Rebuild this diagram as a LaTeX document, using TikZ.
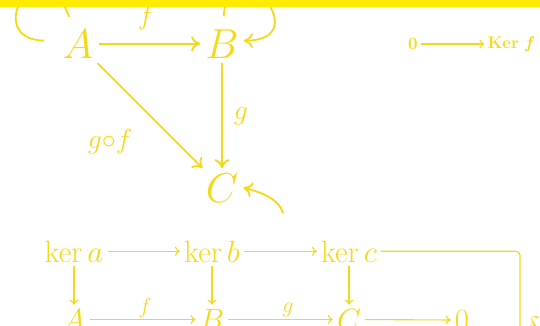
\RequirePackage{fix-cm}
\documentclass[tikz,border=0pt]{standalone}
\usepackage{amsmath}
\usepackage{xcolor}
\definecolor{ink}{HTML}{F6D916}
\definecolor{topbar}{HTML}{FFEB00}
\usetikzlibrary{arrows.meta}

\begin{document}
\begin{tikzpicture}[x=1bp,y=-1bp,
  obj/.style={text=ink,font=\fontsize{42}{42}\selectfont,anchor=base,inner sep=5bp},
  sobj/.style={text=ink,font=\fontsize{31}{31}\selectfont,anchor=base,inner sep=4bp},
  kobj/.style={text=ink,font=\fontsize{17}{17}\selectfont\bfseries,inner sep=3bp},
  lbl/.style={text=ink,font=\fontsize{28}{28}\selectfont,inner sep=0pt},
  slbl/.style={text=ink,font=\fontsize{22}{22}\selectfont,inner sep=0pt},
  arr/.style={-{Computer Modern Rightarrow[length=9bp,width=15bp]},draw=ink,line width=1.8bp},
  loopline/.style={draw=ink,line width=1.8bp},
  tarr/.style={-{Computer Modern Rightarrow[length=5bp,width=9bp]},draw=ink,line width=1.1bp},
  tline/.style={draw=ink,line width=1.1bp}]
\useasboundingbox (0,0) rectangle (540,325);
\clip (0,0) rectangle (540,325);
% triangle with loops
\node[obj] (A) at (78,58) {$A$};
\node[obj] (B) at (222,58) {$B$};
\node[obj] (C) at (222,202) {$C$};
\node[lbl] (lf) at (146,18) {$f$};
\node[lbl] (lg) at (241,116) {$g$};
\node[lbl] (lgf) at (110,142) {$g{\circ}f$};
\draw[arr] (A) -- (B);
\draw[arr] (B) -- (C);
\draw[arr] (A) -- (C);
\draw[loopline,shorten <=13bp,shorten >=8bp] ([yshift=3bp]A.west) .. controls (-20,40) and (40,-60) .. ([xshift=-6bp]A.north);
\draw[arr,shorten <=8bp] ([xshift=1bp]B.north) .. controls (230,-60) and (320,40) .. ([yshift=3bp]B.east);
\coordinate (cin) at (283,213);
\draw[arr] (cin) .. controls (279,201) and (268,194) .. (C.east);
% small map
\node[kobj] (z) at (413,44) {0};
\node[kobj] (kf) at (511,44) {Ker \textit{f}};
\draw[tarr] (z) -- (kf);
% snake rows
\node[sobj] (ka) at (74,262) {$\ker a$};
\node[sobj] (kb) at (212,262) {$\ker b$};
\node[sobj] (kc) at (349,262) {$\ker c$};
\node[sobj] (a1) at (74,330) {$A$};
\node[sobj] (b1) at (212,330) {$B$};
\node[sobj] (c1) at (349,330) {$C$};
\node[sobj] (z1) at (462,330) {$0$};
\node[slbl] (lf1) at (145,308) {$f$};
\node[slbl] (lg1) at (288,310) {$g$};
\node[sobj,anchor=base west] (ld) at (521,338) {$\delta$};
\coordinate (sn) at (520,340);
\draw[tarr] (ka) -- (kb);
\draw[tarr] (kb) -- (kc);
\draw[tline,rounded corners=4bp] (kc) -| (sn);
\draw[tarr] (ka) -- (a1);
\draw[tarr] (kb) -- (b1);
\draw[tarr] (kc) -- (c1);
\draw[tarr] (a1) -- (b1);
\draw[tarr] (b1) -- (c1);
\draw[tarr] (c1) -- (z1);
% top band
\fill[topbar] (0,0) rectangle (540,6.5);
\end{tikzpicture}
\end{document}
